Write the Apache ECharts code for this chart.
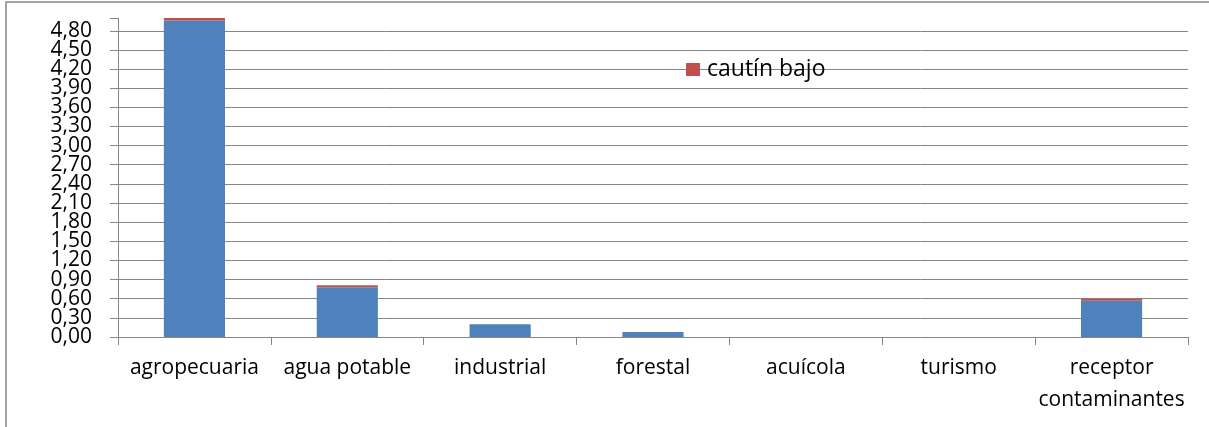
<!DOCTYPE html>
<html>
<head>
<meta charset="utf-8">
<script src="https://cdn.jsdelivr.net/npm/echarts@6/dist/echarts.min.js"></script>
<style>
  html, body { margin: 0; padding: 0; background: #fff; }
  #chart { width: 1209px; height: 427px; }
</style>
</head>
<body>
<div id="chart"></div>
<script>
// categorías de uso
const categories = ['agropecuaria', 'agua potable', 'industrial', 'forestal', 'acuícola', 'turismo', 'receptor\ncontaminantes'];
// parte azul (serie base, sin leyenda)
const baseValues = [4.96, 0.78, 0.20, 0.08, 0, 0, 0.57];
// cautín bajo (rojo, apilado arriba)
const cautinBajo = [0.04, 0.03, 0, 0, 0, 0, 0.03];
// marcas del eje Y (repartidas en dos ejes para que no se oculten al solaparse)
const yTicksEven = [0, 0.6, 1.2, 1.8, 2.4, 3.0, 3.6, 4.2, 4.8];
const yTicksOdd = [0.3, 0.9, 1.5, 2.1, 2.7, 3.3, 3.9, 4.5];

const gridColor = '#868686';
const font = 'Open Sans';

const chart = echarts.init(document.getElementById('chart'));

const labelStyle = {
  fontFamily: font, fontSize: 21, color: '#000', margin: 26,
  showMinLabel: true, showMaxLabel: true,
  formatter: v => v.toFixed(2).replace('.', ',')
};

chart.setOption({
  animation: false,
  grid: { left: 118, right: 21, top: 18, bottom: 90 },
  legend: {
    data: ['cautín bajo'],
    left: 681,
    top: 53,
    itemWidth: 14,
    itemHeight: 13,
    icon: 'rect',
    textStyle: { fontFamily: font, fontSize: 23, color: '#000', padding: [0, 0, 0, 2] }
  },
  graphic: [{
    type: 'rect',
    shape: { x: 6, y: 2, width: 1400, height: 600 },
    style: { fill: 'none', stroke: gridColor, lineWidth: 1.5 },
    silent: true
  }],
  xAxis: {
    type: 'category',
    data: categories,
    boundaryGap: true,
    axisLine: { lineStyle: { color: gridColor, width: 1 } },
    axisTick: { show: true, length: 8, lineStyle: { color: gridColor } },
    axisLabel: {
      fontFamily: font, fontSize: 21, color: '#000',
      margin: 15, lineHeight: 32, interval: 0
    },
    splitLine: { show: false }
  },
  yAxis: [
    {
      type: 'value',
      position: 'left',
      min: 0,
      max: 5.0,
      interval: 0.3,
      axisLine: { show: true, lineStyle: { color: gridColor, width: 1 } },
      axisTick: { show: true, length: 8, lineStyle: { color: gridColor, width: 1 } },
      axisLabel: Object.assign({ customValues: yTicksEven }, labelStyle),
      splitLine: { show: true, showMinLine: false, showMaxLine: false, lineStyle: { color: gridColor, width: 1 } }
    },
    {
      type: 'value',
      position: 'left',
      offset: 0,
      min: 0,
      max: 5.0,
      interval: 0.3,
      axisLine: { show: false },
      axisTick: { show: false },
      axisLabel: Object.assign({ customValues: yTicksOdd }, labelStyle),
      splitLine: { show: false }
    }
  ],
  series: [
    {
      name: 'base',
      type: 'bar',
      stack: 'total',
      data: baseValues,
      barCategoryGap: '60%',
      itemStyle: { color: '#4F81BD' }
    },
    {
      name: 'cautín bajo',
      type: 'bar',
      stack: 'total',
      data: cautinBajo,
      barCategoryGap: '60%',
      itemStyle: { color: '#C0504D' }
    }
  ]
});
</script>
</body>
</html>
